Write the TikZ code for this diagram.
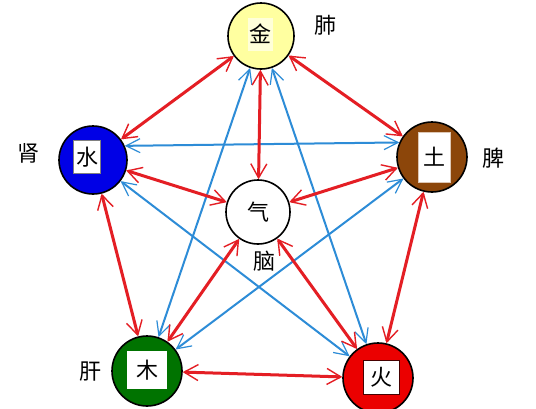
\documentclass[tikz,border=0pt]{standalone}
\usepackage{fontspec}
\newfontfamily\cjk{Noto Sans CJK SC}
\usetikzlibrary{arrows.meta}
\definecolor{cred}{RGB}{228,30,36}
\definecolor{cblue}{RGB}{45,140,215}
\definecolor{cyel}{RGB}{255,255,160}
\definecolor{cbrown}{RGB}{140,70,10}
\definecolor{cgreen}{RGB}{0,115,0}
\definecolor{cwater}{RGB}{0,0,230}
\definecolor{cfire}{RGB}{235,0,0}
\begin{document}
\begin{tikzpicture}[x=1pt,y=-1pt,
  elem/.style={circle,draw=black,line width=1.6pt,inner sep=0pt},
  box/.style={rectangle,fill=white,inner sep=0pt,font=\cjk\fontsize{22}{22}\selectfont},
  lbl/.style={font=\cjk\fontsize{22}{22}\selectfont},
  rline/.style={draw=cred,line width=3pt,>={Straight Barb[length=14pt,width=16pt,line width=1.4pt]},<->},
  bline/.style={draw=cblue,line width=2pt,>={Straight Barb[length=14pt,width=14pt,line width=1.2pt]},<->}
]
\useasboundingbox (0,0) rectangle (536,408);
\fill[white] (0,0) rectangle (536,408);

% elements
\node[elem,fill=cyel,minimum size=66pt] (jin) at (261,36) {};
\node[box,fill=white!60!cyel,minimum width=25pt,minimum height=33pt] (jinb) at (260,34) {金};
\node[elem,fill=cwater,minimum size=68pt] (shui) at (93,160) {};
\node[box,draw=gray,line width=0.6pt,minimum width=27pt,minimum height=33pt] (shuib) at (87,157) {水};
\node[elem,fill=cbrown,minimum size=70pt] (tu) at (432,157) {};
\node[box,draw=white!70!cbrown,line width=0.8pt,minimum width=32pt,minimum height=50pt] (tub) at (434,157) {土};
\node[elem,fill=white,minimum size=64pt,font=\cjk\fontsize{22}{22}\selectfont] (qi) at (258,212) {气};
\node[elem,fill=cgreen,minimum size=70pt] (mu) at (147,371) {};
\node[box,minimum width=40pt,minimum height=38pt] (mub) at (147,370) {木};
\node[elem,fill=cfire,minimum size=70pt] (huo) at (378,378) {};
\node[box,draw=black!70!cfire,line width=0.6pt,minimum width=36pt,minimum height=34pt] (huob) at (381,377) {火};

% labels
\node[lbl] (fei) at (325,25) {肺};
\node[lbl] (shen) at (28,153) {肾};
\node[lbl] (pi) at (493,158) {脾};
\node[lbl] (nao) at (264,261) {脑};
\node[lbl] (gan) at (90,372) {肝};

% blue (controlling) lines
\draw[bline] (tu.156) -- (shui.24);
\draw[bline] (jin) -- (mu);
\draw[bline] (jin) -- (huo);
\draw[bline] (shui) -- (huo);
\draw[bline] (mu) -- (tu);

% red pentagon
\draw[rline] (jin) -- (shui);
\draw[rline] (jin) -- (tu);
\draw[rline] (shui) -- (mu);
\draw[rline] (tu) -- (huo);
\draw[rline] (mu) -- (huo);

% red spokes
\draw[rline] (jin) -- (qi);
\draw[rline] (shui) -- (qi);
\draw[rline] (tu) -- (qi);
\draw[rline] (mu) -- (qi);
\draw[rline] (huo) -- (qi);
\end{tikzpicture}
\end{document}
